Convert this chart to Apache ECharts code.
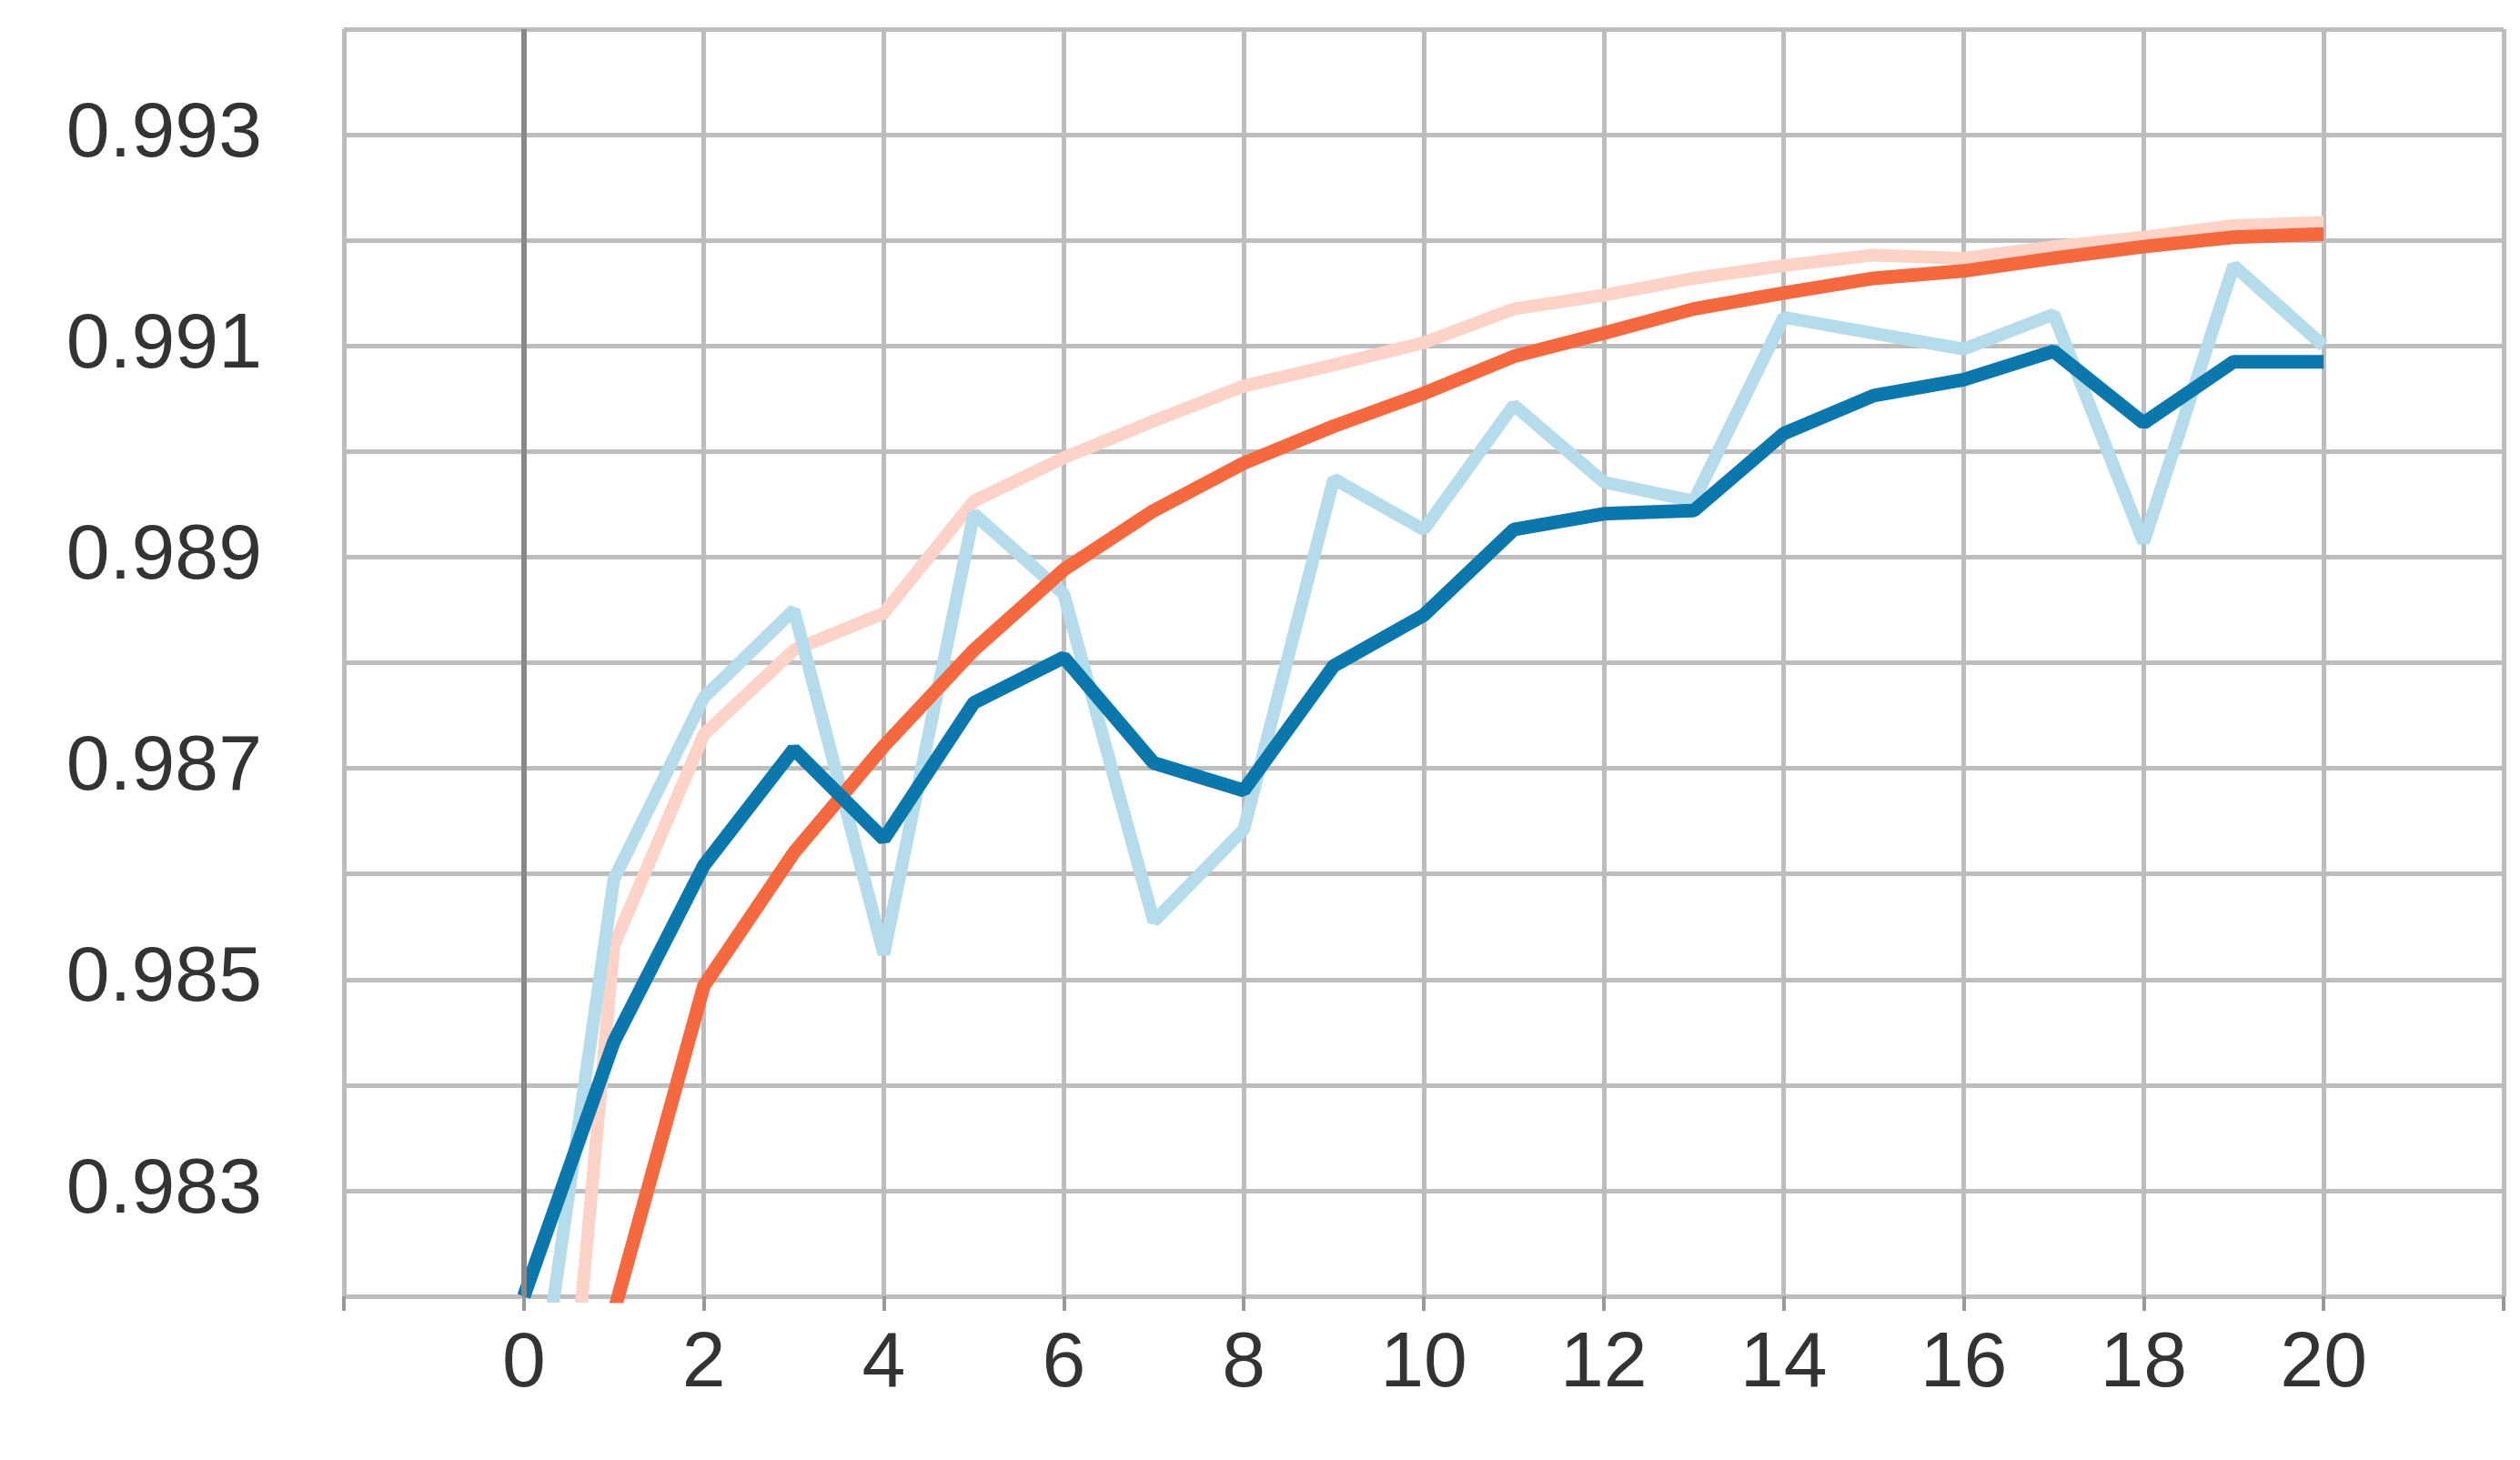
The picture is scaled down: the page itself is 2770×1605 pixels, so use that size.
<!DOCTYPE html>
<html>
<head>
<meta charset="utf-8">
<script src="https://cdn.jsdelivr.net/npm/echarts@6/dist/echarts.min.js"></script>
<style>html,body{margin:0;padding:0;background:#fff}#chart{width:2770px;height:1605px}</style>
</head>
<body>
<div id="chart"></div>
<script>
// epochs 0..20
var epochs = [0,1,2,3,4,5,6,7,8,9,10,11,12,13,14,15,16,17,18,19,20];
var blueSmooth = [0.9820,0.98441,0.98608,0.98718,0.98633,0.98762,0.98805,0.98705,0.98679,0.98797,0.98845,0.98926,0.98941,0.98944,0.99017,0.99053,0.99068,0.99095,0.99027,0.99085,0.99085];
var blueRaw = [0.9800,0.98595,0.98767,0.98850,0.98524,0.98941,0.98865,0.98555,0.98642,0.98974,0.98926,0.99044,0.98971,0.98953,0.99127,0.99112,0.99097,0.99130,0.98914,0.99176,0.99100];
var orangeSmooth = [0.9780,0.98185,0.98494,0.98620,0.98721,0.98812,0.98888,0.98944,0.98989,0.99024,0.99055,0.99090,0.99112,0.99135,0.99150,0.99164,0.99171,0.99183,0.99194,0.99203,0.99206];
var orangeRaw = [0.9759,0.98532,0.98732,0.98812,0.98847,0.98953,0.98994,0.99029,0.99062,0.99082,0.99103,0.99135,0.99148,0.99164,0.99176,0.99186,0.99183,0.99194,0.99203,0.99214,0.99217];

function pairs(arr){ return arr.map(function(v,i){ return [epochs[i], v]; }); }

var chart = echarts.init(document.getElementById('chart'));
var lab = {fontFamily:'Liberation Sans', fontSize:86, color:'#333'};
chart.setOption({
  animation:false,
  grid:{left:378, right:18, top:32, bottom:180},
  xAxis:{
    type:'value', min:-2, max:22, interval:2,
    axisLine:{show:false},
    axisTick:{show:true, length:16, lineStyle:{color:'#999', width:4}},
    splitLine:{show:true, lineStyle:{color:'#bdbdbd', width:5}},
    axisLabel:Object.assign({margin:32, formatter:function(v){ return (v<0||v>20)?'':String(v); }}, lab)
  },
  yAxis:{
    type:'value', min:0.982, max:0.994, interval:0.001,
    axisLine:{show:false}, axisTick:{show:false},
    splitLine:{show:true, lineStyle:{color:'#bdbdbd', width:5}},
    axisLabel:Object.assign({margin:90, formatter:function(v){
      var k = Math.round(v*1000);
      return (k%2===1 && k<994) ? v.toFixed(3) : '';
    }}, lab)
  },
  series:[
    {type:'line', data:pairs(orangeRaw), symbol:'none', lineStyle:{color:'#fdd3c8', width:14}, z:2},
    {type:'line', data:pairs(blueRaw), symbol:'none', lineStyle:{color:'#b5dcea', width:14}, z:2,
      markLine:{silent:true, symbol:'none', label:{show:false},
        lineStyle:{color:'#888', width:6, type:'solid'}, data:[{xAxis:0}]}},
    {type:'line', data:pairs(orangeSmooth), symbol:'none', lineStyle:{color:'#f6683e', width:15}, z:3},
    {type:'line', data:pairs(blueSmooth), symbol:'none', lineStyle:{color:'#0a77ad', width:15}, z:4}
  ]
});
</script>
</body>
</html>
